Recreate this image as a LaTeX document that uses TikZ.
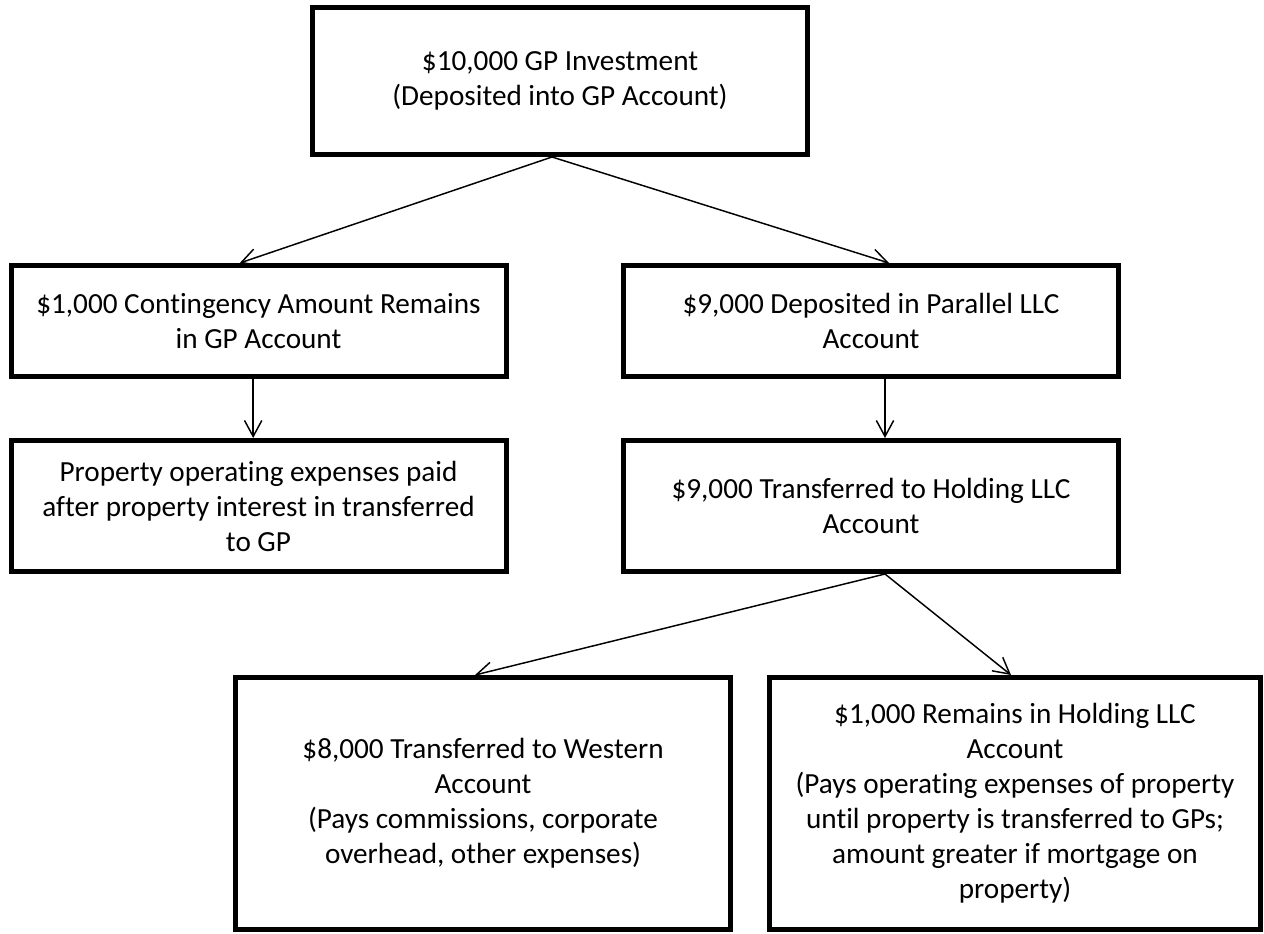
\documentclass[tikz,border=0pt]{standalone}
\usepackage{fontspec}
\setmainfont{Carlito}[Ligatures=NoCommon]
\usepackage{tikz}
\usetikzlibrary{arrows.meta}
\newcommand\boxfont{\fontsize{21.9pt}{26.25pt}\selectfont}
\tikzset{
  acct/.style={draw, line width=3.75pt, inner sep=0pt, minimum width=371.25pt, align=center, font=\boxfont},
  flow/.style={-{Straight Barb[length=12pt,width=13pt]}, line width=1.1pt}
}

\begin{document}
\begin{tikzpicture}[x=0.75pt, y=-0.75pt]
      \def\hone{83.25pt}
      \def\htwo{98.25pt}
      \def\hthree{189pt}

      \useasboundingbox (0,0) rectangle (1264,934);

      \node[acct, minimum height=110.25pt] (invest) at (560,81) {\$10,000 GP Investment\\(Deposited into GP Account)};

      \node[acct, minimum height=\hone] (contingency) at (258.5,321) {\$1,000 Contingency Amount Remains\\in GP Account};
      \node[acct, minimum height=\hone] (parallel) at (871,321) {\$9,000 Deposited in Parallel LLC\\Account};

      \node[acct, minimum height=\htwo] (opex) at (258.5,506) {Property operating expenses paid\\after property interest in transferred\\to GP};
      \node[acct, minimum height=\htwo] (holding) at (871,506) {\$9,000 Transferred to Holding LLC\\Account};

      \node[acct, minimum height=\hthree] (western) at (483,803.5) {\$8,000 Transferred to Western\\Account\\(Pays commissions, corporate\\overhead, other expenses)};
      \node[acct, minimum height=\hthree, minimum width=368.25pt] (remains) at (1015,803.5) {\$1,000 Remains in Holding LLC\\Account\\(Pays operating expenses of property\\until property is transferred to GPs;\\amount greater if mortgage on\\property)};

      \draw[flow] ([xshift=-6pt]invest.south) -- ([xshift=-14pt]contingency.north);
      \draw[flow] ([xshift=-6pt]invest.south) -- ([xshift=13.5pt]parallel.north);
      \draw[flow] ([xshift=-4pt]contingency.south) -- ([xshift=-4pt]opex.north);
      \draw[flow] ([xshift=10.5pt]parallel.south) -- ([xshift=10.5pt]holding.north);
      \draw[flow] ([xshift=10.5pt]holding.south) -- ([xshift=-6pt]western.north);
      \draw[flow] ([xshift=10.5pt]holding.south) -- ([xshift=-3pt]remains.north);
    \end{tikzpicture}
\end{document}
